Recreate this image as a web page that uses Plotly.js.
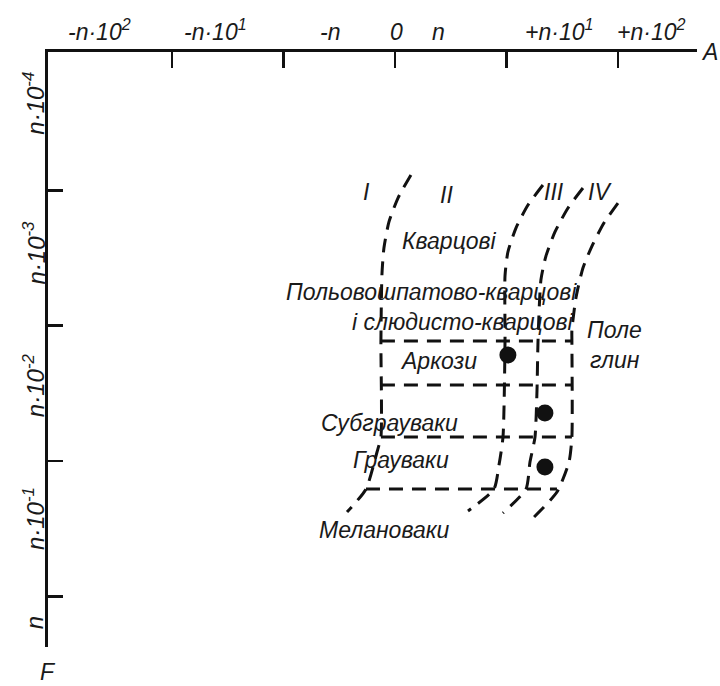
<!DOCTYPE html>
<html>
<head>
<meta charset="utf-8">
<script src="https://cdn.plot.ly/plotly-3.0.1.min.js"></script>
<style>html,body{margin:0;padding:0;background:#fff;}#chart{width:720px;height:686px;}</style>
</head>
<body>
<div id="chart"></div>
<script>
// Axis A (horizontal, decade steps), axis F (vertical, decade steps)
const xTickVals = [-2, -1, 0, 1, 2];
const yTickVals = [1, 2, 3, 4];
const xTickLabels = ['-n·10<sup>2</sup>', '-n·10<sup>1</sup>', '-n', '0', 'n', '+n·10<sup>1</sup>', '+n·10<sup>2</sup>'];
const xTickLabelPos = [-2.646, -1.614, -0.583, 0.018, 0.386, 1.471, 2.296];
const yTickLabels = ['n·10<sup>-4</sup>', 'n·10<sup>-3</sup>', 'n·10<sup>-2</sup>', 'n·10<sup>-1</sup>', 'n'];
const yTickLabelPos = [0.36, 1.46, 2.44, 3.43, 4.2];

// Boundary curves between fields I | II | III | IV | clay field
const curveA_x = [0.143, 0.027, -0.054, -0.099, -0.117, -0.126, -0.126, -0.161, -0.260, -0.430];
const curveA_y = [0.887, 1.057, 1.234, 1.426, 1.626, 2.114, 2.823, 2.934, 3.208, 3.378];
const curveB_x = [1.327, 1.193, 1.085, 1.013, 0.987, 0.987, 0.969, 0.933, 0.888, 0.655];
const curveB_y = [0.961, 1.109, 1.279, 1.456, 1.633, 2.114, 2.823, 3.030, 3.208, 3.370];
const curveC_x = [1.686, 1.552, 1.435, 1.354, 1.309, 1.283, 1.274, 1.256, 1.211, 1.175, 0.969];
const curveC_y = [0.983, 1.131, 1.308, 1.486, 1.663, 2.114, 2.476, 2.823, 3.008, 3.208, 3.385];
const curveD_x = [2.000, 1.874, 1.767, 1.686, 1.623, 1.587, 1.587, 1.587, 1.561, 1.453, 1.220];
const curveD_y = [1.094, 1.242, 1.412, 1.574, 1.796, 2.033, 2.114, 2.823, 3.008, 3.230, 3.437];

// Horizontal class boundaries
const hLineLevels = [2.114, 2.439, 2.823, 3.208];
const hLineStart = [-0.126, -0.126, -0.126, -0.260];
const hLineEnd = [1.587, 1.587, 1.587, 1.453];

// Sample points
const pointsX = [1.013, 1.345, 1.345];
const pointsY = [2.217, 2.646, 3.045];

// Field and rock labels
const labelText = ['I', 'II', 'III', 'IV', 'Кварцові', 'Польовошпатово-кварцові', 'і слюдисто-кварцові',
  'Поле', 'глин', 'Аркози', 'Субграуваки', 'Грауваки', 'Мелановаки'];
const labelX = [-0.251, 0.466, 1.426, 1.839, 0.493, 0.332, 0.610, 1.973, 1.973, 0.386, -0.045, 0.053, -0.090];
const labelY = [1.013, 1.035, 1.013, 1.013, 1.375, 1.752, 1.973, 2.033, 2.254, 2.262, 2.720, 2.993, 3.511];

const axisNames = ['A', 'F'];

const FONT = 'Liberation Sans, Arial, Helvetica, sans-serif';
const TXT = '#1a1a1a';
const dashStyle = {color: '#111', width: 3, dash: '14px,9px'};
const tf = (size) => ({family: FONT, size: size, color: TXT, style: 'italic'});

const traces = [];
[[curveA_x, curveA_y], [curveB_x, curveB_y], [curveC_x, curveC_y], [curveD_x, curveD_y]].forEach(c => {
  traces.push({x: c[0], y: c[1], type: 'scatter', mode: 'lines', line: Object.assign({shape: 'spline', smoothing: 0.6}, dashStyle), hoverinfo: 'skip', showlegend: false});
});
hLineLevels.forEach((lv, i) => {
  traces.push({x: [hLineStart[i], hLineEnd[i]], y: [lv, lv], type: 'scatter', mode: 'lines', line: dashStyle, hoverinfo: 'skip', showlegend: false});
});
traces.push({x: pointsX, y: pointsY, type: 'scatter', mode: 'markers', marker: {color: '#111', size: 17, symbol: 'circle'}, showlegend: false});

const annotations = [];
xTickLabels.forEach((t, i) => annotations.push({x: xTickLabelPos[i], y: 1, xref: 'x', yref: 'paper', text: t, showarrow: false, xanchor: 'center', yanchor: 'bottom', yshift: 5, font: tf(23)}));
yTickLabels.forEach((t, i) => annotations.push({x: 0, y: yTickLabelPos[i], xref: 'paper', yref: 'y', text: t, showarrow: false, textangle: -90, xanchor: 'center', yanchor: 'middle', xshift: -14, font: tf(24)}));
labelText.forEach((t, i) => annotations.push({x: labelX[i], y: labelY[i], xref: 'x', yref: 'y', text: t, showarrow: false, xanchor: 'center', yanchor: 'middle', font: tf(23)}));
annotations.push({x: 1.02, y: 1, xref: 'paper', yref: 'paper', text: axisNames[0], showarrow: false, xanchor: 'center', yanchor: 'middle', font: tf(23)});
annotations.push({x: 0, y: -0.042, xref: 'paper', yref: 'paper', text: axisNames[1], showarrow: false, xanchor: 'center', yanchor: 'middle', font: tf(23)});

const layout = {
  width: 720, height: 686,
  margin: {l: 48, r: 23, t: 52, b: 39},
  paper_bgcolor: '#fff', plot_bgcolor: '#fff',
  showlegend: false,
  font: {family: FONT, color: TXT},
  xaxis: {range: [-3.112, 2.709], side: 'top', showline: true, linecolor: '#111', linewidth: 3,
    ticks: 'inside', tickvals: xTickVals, ticklen: 16, tickwidth: 2.5, tickcolor: '#111',
    showticklabels: false, showgrid: false, zeroline: false, fixedrange: true},
  yaxis: {range: [4.375, -0.022], showline: true, linecolor: '#111', linewidth: 3,
    ticks: 'inside', tickvals: yTickVals, ticklen: 15, tickwidth: 2.5, tickcolor: '#111',
    showticklabels: false, showgrid: false, zeroline: false, fixedrange: true},
  annotations: annotations
};

Plotly.newPlot('chart', traces, layout, {staticPlot: true, displayModeBar: false});
</script>
</body>
</html>
